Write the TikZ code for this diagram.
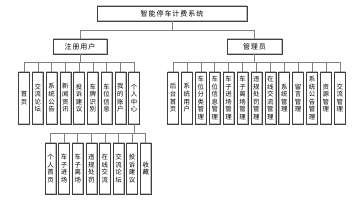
\documentclass[tikz,border=0pt]{standalone}
\usepackage{fontspec}
\newfontfamily\cjk{Noto Sans CJK SC}
\begin{document}
\begin{tikzpicture}[x=1pt,y=-1pt,
  box/.style={draw=black!75, line width=0.5pt, fill=white, inner sep=0pt,
    path picture={\draw[black!25, line width=1.6pt] (path picture bounding box.south west) rectangle (path picture bounding box.north east);}},
  hbox/.style={box, minimum height=15pt, font=\cjk\fontsize{7}{8}\selectfont\addfontfeature{LetterSpace=14}},
  vbox/.style={box, minimum width=11pt, align=center, font=\cjk\fontsize{6.4}{7.6}\selectfont},
  conn/.style={draw=black!50, line width=0.5pt}]
\useasboundingbox (0,0) rectangle (356,200);
\node[hbox, minimum width=150pt] (sys) at (172,13.5) {智能停车计费系统};
\node[hbox, minimum width=54pt] (reg) at (80,46.5) {注册用户};
\node[hbox, minimum width=55pt] (adm) at (254.5,46.5) {管理员};
\draw[conn] (sys.south) -- ++(0,9) coordinate (j0) -| (reg.north);
\draw[conn] (j0) -| (adm.north);
% registered user children
\foreach \t [count=\i from 0] in {首\\页, 交\\流\\论\\坛, 系\\统\\公\\告, 新\\闻\\资\\讯, 投\\诉\\建\\议, 车\\牌\\识\\别, 车\\位\\信\\息, 我\\的\\账\\户, 个\\人\\中\\心}{
  \node[vbox, minimum height=52pt] (r\i) at (24+13.75*\i,98) {\t};
  \draw[conn] (reg.south) -- ++(0,8) -| (r\i.north);
}
% admin children
\foreach \t [count=\i from 0] in {后\\台\\首\\页, 系\\统\\用\\户, 车\\位\\分\\类\\管\\理, 车\\位\\信\\息\\管\\理, 车\\子\\进\\场\\管\\理, 车\\子\\离\\场\\管\\理, 违\\规\\处\\罚\\管\\理, 在\\线\\交\\流\\管\\理, 系\\统\\管\\理, 留\\言\\管\\理, 系\\统\\公\\告\\管\\理, 资\\源\\管\\理, 交\\流\\管\\理}{
  \node[vbox, minimum height=52pt] (a\i) at (173+13.9*\i,98) {\t};
  \draw[conn] (adm.south) -- ++(0,8) -| (a\i.north);
}
% personal center children
\foreach \t [count=\i from 0] in {个\\人\\首\\页, 车\\子\\进\\场, 车\\子\\离\\场, 违\\规\\处\\罚, 在\\线\\交\\流, 交\\流\\论\\坛, 投\\诉\\建\\议, 收\\藏}{
  \node[vbox, minimum height=51pt] (p\i) at (50.5+13.6*\i,168.5) {\t};
  \draw[conn] (r8.south) -- ++(0,9) -| (p\i.north);
}
\end{tikzpicture}
\end{document}
